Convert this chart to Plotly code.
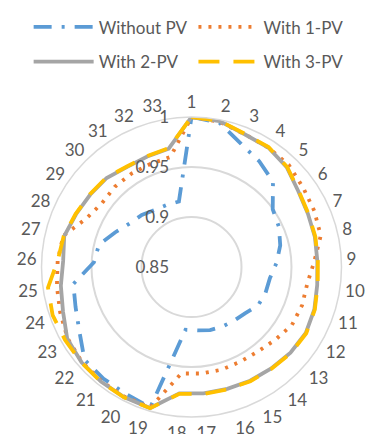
import plotly.graph_objects as go

# Bus numbers of the 33-bus feeder
buses = [str(i) for i in range(1, 34)]

# Bus voltage magnitudes (p.u.)
v_without_pv = [1.0000, 0.9970, 0.9829, 0.9755, 0.9681, 0.9497, 0.9462, 0.9413,
                0.9351, 0.9292, 0.9284, 0.9269, 0.9208, 0.9185, 0.9171, 0.9157,
                0.9137, 0.9131, 0.9965, 0.9929, 0.9922, 0.9916, 0.9794, 0.9727,
                0.9694, 0.9477, 0.9452, 0.9337, 0.9255, 0.9220, 0.9178, 0.9169,
                0.9166]
v_1pv = [1.0000, 0.9980, 0.9930, 0.9920, 0.9910, 0.9870, 0.9850, 0.9830,
         0.9730, 0.9670, 0.9670, 0.9660, 0.9610, 0.9575, 0.9565, 0.9570,
         0.9570, 0.9570, 0.9965, 0.9960, 0.9955, 0.9950, 0.9930, 0.9890,
         0.9860, 0.9840, 0.9820, 0.9660, 0.9600, 0.9610, 0.9610, 0.9610,
         0.9620]
v_2pv = [1.0000, 0.9985, 0.9930, 0.9920, 0.9880, 0.9810, 0.9780, 0.9770,
         0.9760, 0.9770, 0.9800, 0.9820, 0.9810, 0.9790, 0.9780, 0.9770,
         0.9770, 0.9770, 0.9970, 0.9965, 0.9960, 0.9955, 0.9935, 0.9860,
         0.9820, 0.9785, 0.9810, 0.9770, 0.9745, 0.9730, 0.9690, 0.9690,
         0.9705]
v_3pv = [1.0000, 0.9988, 0.9935, 0.9925, 0.9885, 0.9815, 0.9785, 0.9775,
         0.9765, 0.9775, 0.9805, 0.9825, 0.9815, 0.9795, 0.9785, 0.9775,
         0.9775, 0.9775, 0.9972, 0.9968, 0.9963, 0.9958, 0.9960, 0.9970,
         0.9950, 0.9840, 0.9815, 0.9775, 0.9750, 0.9735, 0.9695, 0.9695,
         0.9710]

radial_ticks = [0.85, 0.9, 0.95, 1.0]
radial_ticktext = ["0.85", "0.9", "0.95", "1"]

FONT = "Lato"
TXT = "#595959"

# name, values, colour, dash pattern, legend slot (x, y in paper coords)
series = [
    ("Without PV", v_without_pv, "#5B9BD5", "18px,10px,3px,10px", "legend", 0.077, 0.937),
    ("With 1-PV", v_1pv, "#ED7D31", "3px,7px", "legend2", 0.52, 0.937),
    ("With 2-PV", v_2pv, "#A5A5A5", "solid", "legend3", 0.077, 0.857),
    ("With 3-PV", v_3pv, "#FFC000", "21px,14px", "legend4", 0.52, 0.857),
]

fig = go.Figure()
legends = {}
for name, vals, color, dash, leg, lx, ly in series:
    fig.add_trace(go.Scatterpolar(
        r=vals + vals[:1],
        theta=buses + buses[:1],
        mode="lines",
        name=name,
        line=dict(color=color, width=3.8, dash=dash),
        legend=leg,
        showlegend=True,
    ))
    legends[leg] = dict(
        orientation="h",
        xanchor="left",
        yanchor="middle",
        x=lx,
        y=ly,
        font=dict(family=FONT, size=17, color=TXT),
        itemwidth=60,
        bgcolor="rgba(0,0,0,0)",
    )

fig.update_layout(
    width=372,
    height=434,
    margin=dict(l=0, r=0, t=0, b=0),
    showlegend=True,
    paper_bgcolor="white",
    plot_bgcolor="white",
    font=dict(family=FONT, size=17, color=TXT),
    polar=dict(
        domain=dict(x=[0.1116, 0.918], y=[0.0392, 0.7304]),
        bgcolor="white",
        radialaxis=dict(
            range=[0.85, 1.0],
            tickvals=radial_ticks,
            ticktext=radial_ticktext,
            angle=90,
            tickangle=90,
            side="counterclockwise",
            showline=False,
            ticks="outside",
            ticklen=16,
            tickcolor="rgba(0,0,0,0)",
            gridcolor="#D9D9D9",
            gridwidth=1.5,
            tickfont=dict(family=FONT, size=17, color=TXT),
        ),
        angularaxis=dict(
            direction="clockwise",
            rotation=90,
            showgrid=False,
            linecolor="#D9D9D9",
            linewidth=1.5,
            ticks="outside",
            ticklen=1,
            tickcolor="rgba(0,0,0,0)",
            tickfont=dict(family=FONT, size=17, color=TXT),
        ),
    ),
    **legends,
)

fig.write_html("out.html")
